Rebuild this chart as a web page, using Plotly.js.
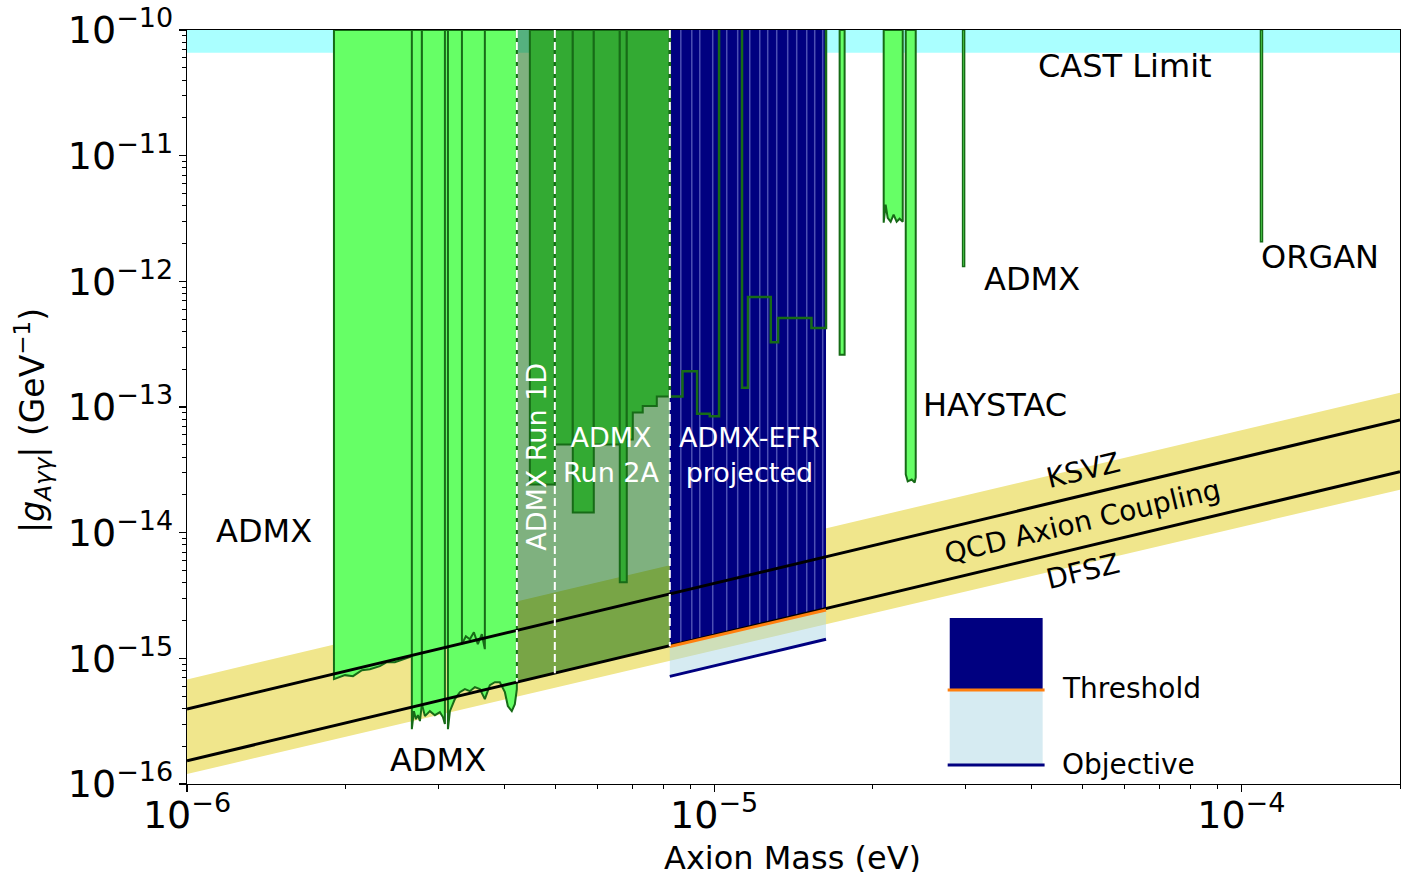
<!DOCTYPE html>
<html><head><meta charset="utf-8">
<script src="https://cdn.plot.ly/plotly-3.0.1.min.js"></script>
<style>html,body{margin:0;padding:0;background:#fff}#chart{width:1403px;height:872px}</style>
</head><body><div id="chart"></div>
<script>
// ---------- data (axion mass in eV, coupling in GeV^-1) ----------
const massRange = [1e-6, 2e-4];
const gRange = [1e-16, 1e-10];
const xTickExp = [-6, -5, -4];
const yTickExp = [-16, -15, -14, -13, -12, -11, -10];
const castLimit = 6.6e-11;
const lineMass = [1e-6, 2e-4];
const ksvzG = [3.95e-16, 7.9e-14];
const dfszG = [1.53e-16, 3.06e-14];
const bandTopG = [6.8e-16, 1.3e-13];
const bandBottomG = [1.2e-16, 2.2e-14];

// ADMX (light green) exclusion pieces: masses and lower edge
const admxA_m = [1.900e-6,1.994e-6,2.065e-6,2.147e-6,2.223e-6,2.322e-6,2.394e-6,2.479e-6,2.567e-6,2.670e-6,2.766e-6,2.889e-6,3.018e-6,3.153e-6,3.323e-6];
const admxA_g = [6.83e-16,7.35e-16,7.21e-16,8.05e-16,8.20e-16,8.66e-16,9.32e-16,9.32e-16,9.85e-16,1.040e-15,1.059e-15,1.140e-15,1.183e-15,1.227e-15,1.296e-15];
const admxC1_m = [2.670e-6,2.694e-6,2.718e-6,2.742e-6,2.766e-6,2.790e-6];
const admxC1_g = [2.73e-16,3.80e-16,3.28e-16,3.53e-16,3.17e-16,4.32e-16];
const admxC2_m = [2.790e-6,2.827e-6,2.889e-6,2.953e-6,3.018e-6,3.058e-6,3.085e-6];
const admxC2_g = [4.32e-16,3.47e-16,3.80e-16,3.53e-16,3.73e-16,3.41e-16,3.00e-16];
const admxD_m = [3.126e-6,3.153e-6,3.222e-6,3.293e-6,3.366e-6,3.440e-6,3.516e-6,3.594e-6,3.673e-6,3.754e-6,3.837e-6,3.922e-6,4.009e-6,4.061e-6,4.132e-6,4.187e-6,4.224e-6];
const admxD_g = [2.73e-16,3.80e-16,4.74e-16,5.38e-16,5.69e-16,5.48e-16,5.90e-16,5.69e-16,4.74e-16,6.12e-16,6.46e-16,6.46e-16,5.38e-16,4.17e-16,3.80e-16,4.32e-16,5.69e-16];
const admxB_m = [3.323e-6,3.381e-6,3.440e-6,3.501e-6,3.562e-6,3.625e-6,3.673e-6];
const admxB_g = [1.296e-15,1.500e-15,1.420e-15,1.613e-15,1.296e-15,1.556e-15,1.183e-15];

// ADMX Run 1D / 2A region (shaded) and its exclusion (dark green) steps
const runRegion_m = [4.224e-6, 8.239e-6];
const runRegionBottom_g = [6.51e-16, 1.25e-15];
const runDividers_m = [4.224e-6, 4.986e-6, 8.239e-6];
const runDividers_g = [6.51e-16, 7.6e-16, 1.25e-15];
const col1_m = [4.471e-6, 4.986e-6]; const col1_g = [2.42e-14, 2.42e-14];
const col2_m = [4.986e-6, 5.393e-6]; const col2_g = [5.03e-14, 5.03e-14];
const col3_m = [5.393e-6, 5.911e-6]; const col3_g = [1.45e-14, 1.45e-14];
const col4_m = [5.911e-6, 6.622e-6]; const col4_g = [5.03e-14, 5.03e-14];
const col5_m = [6.622e-6, 6.827e-6]; const col5_g = [4.03e-15, 4.03e-15];
const col6_m = [6.827e-6,7.009e-6,7.009e-6,7.320e-6,7.320e-6,7.784e-6,7.784e-6,8.239e-6];
const col6_g = [5.51e-14,5.51e-14,9.04e-14,9.04e-14,1.02e-13,1.02e-13,1.21e-13,1.21e-13];
const col7_m = [8.239e-6,8.708e-6,8.708e-6,9.282e-6,9.282e-6,9.810e-6,9.810e-6,1.0217e-5];
const col7_g = [1.21e-13,1.21e-13,1.925e-13,1.925e-13,8.83e-14,8.83e-14,8.45e-14,8.45e-14];
const col8_m = [1.1294e-5,1.1594e-5,1.1594e-5,1.2806e-5,1.2806e-5,1.3223e-5,1.3223e-5,1.5295e-5,1.5295e-5,1.63e-5];
const col8_g = [1.421e-13,1.421e-13,7.51e-13,7.51e-13,3.27e-13,3.27e-13,5.11e-13,5.11e-13,4.26e-13,4.26e-13];

// ADMX-EFR projection
const efr_m = [8.239e-6, 1.63e-5];
const efrThreshold_g = [1.241e-15, 2.427e-15];
const efrObjective_g = [7.18e-16, 1.419e-15];
const efrStripes_m = [8.645e-6,9.069e-6,9.391e-6,9.938e-6,1.0565e-5,1.1083e-5,1.1682e-5,1.2205e-5,1.2636e-5,1.3143e-5,1.3789e-5,1.4342e-5,1.4984e-5,1.5515e-5,1.6066e-5];

// higher-mass exclusions
const admxS_m = [1.730e-5, 1.768e-5]; const admxS_g = [2.61e-13, 2.61e-13];
const hay1_m = [2.097e-5,2.115e-5,2.134e-5,2.162e-5,2.190e-5,2.219e-5,2.248e-5,2.279e-5];
const hay1_g = [2.93e-12,4.07e-12,3.20e-12,2.98e-12,3.39e-12,2.98e-12,3.15e-12,2.98e-12];
const hay2_m = [2.309e-5,2.329e-5,2.370e-5,2.401e-5,2.412e-5];
const hay2_g = [2.91e-14,2.56e-14,2.65e-14,2.51e-14,2.75e-14];
const admxH_m = [2.960e-5, 2.986e-5]; const admxH_g = [1.31e-12, 1.31e-12];
const organ_m = [1.0873e-4, 1.0969e-4]; const organ_g = [2.07e-12, 2.07e-12];

// ---------- styles ----------
const LIGHT = '#66ff66', DARK = '#33aa33', EDGE = '#176b17';
const TOP = gRange[1];

function region(ms, gs, fill, edge, w) {
  return {x: [ms[0], ...ms, ms[ms.length-1], ms[0]], y: [TOP, ...gs, TOP, TOP],
    mode: 'lines', fill: 'toself', fillcolor: fill,
    line: {color: edge, width: w}, hoverinfo: 'skip', type: 'scatter'};
}
function outline(ms, gs, edge, w) {
  return {x: [ms[0], ...ms, ms[ms.length-1]], y: [TOP, ...gs, TOP],
    mode: 'lines', line: {color: edge, width: w}, hoverinfo: 'skip', type: 'scatter'};
}
function thrAt(m) {
  const t = (Math.log10(m) - Math.log10(efr_m[0])) / (Math.log10(efr_m[1]) - Math.log10(efr_m[0]));
  return Math.pow(10, Math.log10(efrThreshold_g[0]) + t * (Math.log10(efrThreshold_g[1]) - Math.log10(efrThreshold_g[0])));
}

const traces = [];
traces.push({x: [lineMass[0], lineMass[1], lineMass[1], lineMass[0], lineMass[0]],
  y: [bandTopG[0], bandTopG[1], bandBottomG[1], bandBottomG[0], bandTopG[0]],
  mode: 'lines', fill: 'toself', fillcolor: '#f0e68c', line: {width: 0}, hoverinfo: 'skip'});
traces.push({x: [massRange[0], massRange[1], massRange[1], massRange[0], massRange[0]],
  y: [castLimit, castLimit, TOP, TOP, castLimit],
  mode: 'lines', fill: 'toself', fillcolor: '#aaffff', line: {width: 0}, hoverinfo: 'skip'});
traces.push({x: [runRegion_m[0], runRegion_m[1], runRegion_m[1], runRegion_m[0], runRegion_m[0]],
  y: [TOP, TOP, runRegionBottom_g[1], runRegionBottom_g[0], TOP],
  mode: 'lines', fill: 'toself', fillcolor: 'rgba(0,100,0,0.5)', line: {width: 0}, hoverinfo: 'skip'});
traces.push(region(admxA_m, admxA_g, LIGHT, EDGE, 2));
traces.push(region(admxC1_m, admxC1_g, LIGHT, EDGE, 2));
traces.push(region(admxC2_m, admxC2_g, LIGHT, EDGE, 2));
traces.push(region(admxD_m, admxD_g, LIGHT, EDGE, 2));
traces.push(region(admxB_m, admxB_g, LIGHT, EDGE, 2));
[[col1_m,col1_g],[col2_m,col2_g],[col3_m,col3_g],[col4_m,col4_g],[col5_m,col5_g],[col6_m,col6_g]]
  .forEach(c => traces.push(region(c[0], c[1], DARK, EDGE, 2)));
traces.push({x: [efr_m[0], efr_m[1], efr_m[1], efr_m[0], efr_m[0]],
  y: [TOP, TOP, efrThreshold_g[1], efrThreshold_g[0], TOP],
  mode: 'lines', fill: 'toself', fillcolor: '#000080', line: {width: 0}, hoverinfo: 'skip'});
const sx = [], sy = [];
efrStripes_m.forEach(m => { sx.push(m, m, null); sy.push(TOP, thrAt(m), null); });
traces.push({x: sx, y: sy, mode: 'lines', line: {color: 'rgba(190,200,255,0.4)', width: 1.5}, hoverinfo: 'skip'});
traces.push(outline(col7_m, col7_g, EDGE, 2.5));
traces.push(outline(col8_m, col8_g, EDGE, 2.5));
traces.push({x: [efr_m[0], efr_m[1], efr_m[1], efr_m[0], efr_m[0]],
  y: [efrThreshold_g[0], efrThreshold_g[1], efrObjective_g[1], efrObjective_g[0], efrThreshold_g[0]],
  mode: 'lines', fill: 'toself', fillcolor: 'rgba(173,216,230,0.5)', line: {width: 0}, hoverinfo: 'skip'});
traces.push(region(admxS_m, admxS_g, LIGHT, EDGE, 2));
traces.push(region(hay1_m, hay1_g, LIGHT, EDGE, 2));
traces.push(region(hay2_m, hay2_g, LIGHT, EDGE, 2));
traces.push(region(admxH_m, admxH_g, LIGHT, EDGE, 1.5));
traces.push(region(organ_m, organ_g, LIGHT, EDGE, 1.5));
traces.push({x: lineMass, y: ksvzG, mode: 'lines', line: {color: 'black', width: 3}, hoverinfo: 'skip'});
traces.push({x: lineMass, y: dfszG, mode: 'lines', line: {color: 'black', width: 3}, hoverinfo: 'skip'});
traces.push({x: efr_m, y: efrThreshold_g, mode: 'lines', line: {color: '#ff7f0e', width: 3}, hoverinfo: 'skip'});
traces.push({x: efr_m, y: efrObjective_g, mode: 'lines', line: {color: '#000080', width: 3}, hoverinfo: 'skip'});
const dx = [], dy = [];
runDividers_m.forEach((m, i) => { dx.push(m, m, null); dy.push(TOP, runDividers_g[i], null); });
traces.push({x: dx, y: dy, mode: 'lines', line: {color: 'white', width: 2, dash: '8px,4px'}, hoverinfo: 'skip'});

traces.forEach(t => { t.type = 'scatter'; t.showlegend = false; });

const F = 'DejaVu Sans';
function ann(text, x, y, size, color, extra) {
  return Object.assign({text, x, y, xref: 'paper', yref: 'paper', showarrow: false,
    font: {family: F, size, color}, xanchor: 'center', yanchor: 'middle'}, extra || {});
}
const annotations = [
  ann('CAST Limit', 0.773, 0.952, 32, 'black'),
  ann('ADMX', 0.6963, 0.6698, 32, 'black'),
  ann('ORGAN', 0.9337, 0.699, 32, 'black'),
  ann('HAYSTAC', 0.6658, 0.5027, 32, 'black'),
  ann('ADMX', 0.0635, 0.3355, 32, 'black'),
  ann('ADMX', 0.2068, 0.0318, 32, 'black'),
  ann('ADMX Run 1D', 0.2884, 0.4337, 27, 'white', {textangle: -90}),
  ann('ADMX<br>Run 2A', 0.3502, 0.4363, 27, 'white'),
  ann('ADMX-EFR<br>projected', 0.4639, 0.4363, 27, 'white'),
  ann('KSVZ', 0.7384, 0.4164, 28, 'black', {textangle: -13.4}),
  ann('QCD Axion Coupling', 0.7384, 0.3488, 28, 'black', {textangle: -13.4}),
  ann('DFSZ', 0.7384, 0.2812, 28, 'black', {textangle: -13.4}),
  ann('Threshold', 0.7194, 0.1273, 28, 'black', {xanchor: 'left'}),
  ann('Objective', 0.7194, 0.0265, 28, 'black', {xanchor: 'left'}),
  ann('Axion Mass (eV)', 0.4994, -0.0975, 32, 'black'),
  ann('|<i>g</i><sub><i>Aγγ</i></sub>| (GeV<sup>−1</sup>)', -0.1270, 0.4828, 33, 'black', {textangle: -90})
];
const shapes = [
  {type: 'rect', xref: 'paper', yref: 'paper', x0: 0.6288, x1: 0.7054, y0: 0.1247, y1: 0.2202, fillcolor: '#000080', line: {width: 0}},
  {type: 'rect', xref: 'paper', yref: 'paper', x0: 0.6288, x1: 0.7054, y0: 0.0252, y1: 0.1247, fillcolor: 'rgba(173,216,230,0.5)', line: {width: 0}},
  {type: 'line', xref: 'paper', yref: 'paper', x0: 0.6271, x1: 0.7070, y0: 0.1247, y1: 0.1247, line: {color: '#ff7f0e', width: 3}},
  {type: 'line', xref: 'paper', yref: 'paper', x0: 0.6271, x1: 0.7070, y0: 0.0252, y1: 0.0252, line: {color: '#000080', width: 3}}
];

function powLabel(e) {
  return '10<sup><span style="font-size:27px">' + (e < 0 ? '−' : '') + Math.abs(e) + '</span></sup>';
}
const axisCommon = {type: 'log', showgrid: false, zeroline: false,
  tickmode: 'array',
  ticks: 'outside', ticklen: 7, tickwidth: 1.2, tickcolor: 'black',
  showline: true, mirror: true, linecolor: 'black', linewidth: 1.2,
  ticklabeloverflow: 'allow',
  tickfont: {family: F, size: 38, color: 'black'},
  minor: {ticks: 'outside', ticklen: 4, tickwidth: 1, tickcolor: 'black', showgrid: false, dtick: 'D1'}};

const layout = {
  width: 1403, height: 872,
  margin: {l: 187, r: 3, t: 30, b: 88},
  paper_bgcolor: 'white', plot_bgcolor: 'white',
  showlegend: false,
  font: {family: F, color: 'black'},
  xaxis: Object.assign({}, axisCommon, {range: [Math.log10(massRange[0]), Math.log10(massRange[1])],
    tickvals: xTickExp.map(e => Math.pow(10, e)), ticktext: xTickExp.map(powLabel),
    ticklabelstandoff: -10}),
  yaxis: Object.assign({}, axisCommon, {range: [Math.log10(gRange[0]), Math.log10(gRange[1])],
    tickvals: yTickExp.map(e => Math.pow(10, e)), ticktext: yTickExp.map(powLabel),
    ticklabelstandoff: -2}),
  annotations, shapes
};
Plotly.newPlot('chart', traces, layout, {displayModeBar: false, staticPlot: true});
</script></body></html>
